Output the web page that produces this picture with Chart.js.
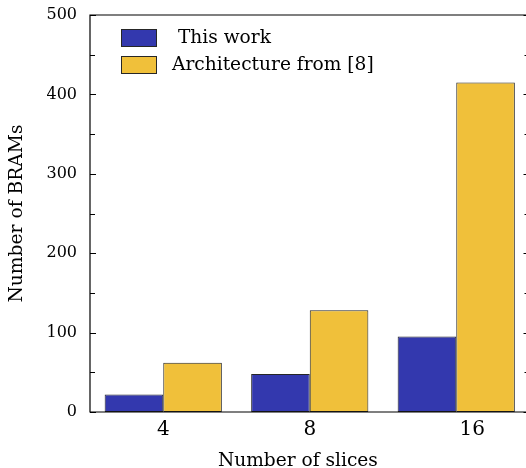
<!DOCTYPE html>
<html>
<head>
<meta charset="utf-8">
<script src="https://cdn.jsdelivr.net/npm/chart.js@4.4.1/dist/chart.umd.min.js"></script>
<style>
  html, body { margin: 0; padding: 0; background: #fff; overflow: hidden; }
  #wrap { width: 526px; height: 468px; }
</style>
</head>
<body>
<div id="wrap"><canvas id="c" width="526" height="468"></canvas></div>
<script>
const categories = ['4', '8', '16'];
const seriesNames = [' This work', 'Architecture from [8]'];
const thisWork = [22, 48, 95];
const architecture8 = [62, 128, 415];
const yTicks = [0, 100, 200, 300, 400, 500];
const yMinorTicks = [50, 150, 250, 350, 450];

const FONT = "'DejaVu Serif', 'Liberation Serif', serif";
const BLUE = '#3338AE';
const YELLOW = '#F0C03A';
const EDGE = '#262626';
const AREA_RIGHT = 529.5; // plot frame extends slightly past the canvas edge

const extendPlugin = {
  id: 'extend',
  afterLayout(chart) {
    const x = chart.scales.x;
    chart.chartArea.right = AREA_RIGHT;
    chart.chartArea.width = AREA_RIGHT - chart.chartArea.left;
    x.right = AREA_RIGHT;
    x.width = AREA_RIGHT - x.left;
    x.configure();
  }
};

const framePlugin = {
  id: 'frame',
  afterDatasetsDraw(chart) {
    const ctx = chart.ctx;
    const a = chart.chartArea;
    const y = chart.scales.y;
    ctx.save();
    ctx.strokeStyle = '#000';
    ctx.lineWidth = 1.2;
    ctx.beginPath();
    ctx.rect(a.left, a.top, a.right - a.left, a.bottom - a.top);
    ctx.stroke();
    ctx.lineWidth = 1;
    yTicks.forEach(v => {
      const py = Math.round(y.getPixelForValue(v)) + 0.5;
      ctx.beginPath();
      ctx.moveTo(a.left, py); ctx.lineTo(a.left + 6, py);
      ctx.moveTo(a.right, py); ctx.lineTo(a.right - 6, py);
      ctx.stroke();
    });
    yMinorTicks.forEach(v => {
      const py = Math.round(y.getPixelForValue(v)) + 0.5;
      ctx.beginPath();
      ctx.moveTo(a.left, py); ctx.lineTo(a.left + 5, py);
      ctx.moveTo(a.right, py); ctx.lineTo(a.right - 5, py);
      ctx.stroke();
    });
    // legend inside plot
    const ds = chart.data.datasets;
    ctx.font = "18.6px " + FONT;
    ctx.textBaseline = 'middle';
    ctx.textAlign = 'left';
    ds.forEach((d, i) => {
      const top = 29.5 + i * 27;
      ctx.fillStyle = d.backgroundColor;
      ctx.fillRect(121.5, top, 35, 17);
      ctx.strokeStyle = EDGE;
      ctx.lineWidth = 1;
      ctx.strokeRect(121.5, top, 35, 17);
      ctx.fillStyle = '#000';
      ctx.fillText(d.label, 172, top + 8.5);
    });
    ctx.restore();
  }
};

new Chart(document.getElementById('c'), {
  type: 'bar',
  data: {
    labels: categories,
    datasets: [
      { label: seriesNames[0], data: thisWork, backgroundColor: BLUE, borderColor: EDGE, borderWidth: 1, borderSkipped: false },
      { label: seriesNames[1], data: architecture8, backgroundColor: YELLOW, borderColor: EDGE, borderWidth: 1, borderSkipped: false }
    ]
  },
  options: {
    responsive: false,
    animation: false,
    devicePixelRatio: 1,
    layout: { padding: { left: 0, right: 0, top: 15, bottom: 0 } },
    datasets: { bar: { categoryPercentage: 0.8, barPercentage: 1.0 } },
    plugins: { legend: { display: false }, tooltip: { enabled: false } },
    scales: {
      x: {
        type: 'category',
        offset: true,
        grid: { display: false, drawTicks: false },
        border: { display: false },
        ticks: {
          color: '#000',
          font: { family: FONT, size: 20 },
          padding: 6,
          maxRotation: 0,
          callback: function(v, i) { return i === 2 ? '     ' + categories[i] : categories[i]; }
        },
        title: {
          display: true,
          text: 'Number of slices    ',
          color: '#000',
          font: { family: FONT, size: 18.6, lineHeight: 1 },
          padding: { top: 0, bottom: -2 }
        },
        afterFit(s) { s.height = 56; s.paddingLeft = 0; s.paddingRight = 0; }
      },
      y: {
        min: 0, max: 500,
        grid: { display: false, drawTicks: false },
        border: { display: false },
        ticks: {
          stepSize: 100,
          color: '#000',
          font: { family: FONT, size: 16 },
          padding: 13
        },
        afterBuildTicks(s) { s.ticks = yTicks.map(v => ({ value: v })); },
        title: {
          display: true,
          text: 'Number of BRAMs',
          color: '#000',
          font: { family: FONT, size: 18.7, lineHeight: 1.2 },
          padding: { top: 6, bottom: 0 }
        },
        afterFit(s) { s.width = 90; s.paddingTop = 0; s.paddingBottom = 0; }
      }
    }
  },
  plugins: [extendPlugin, framePlugin]
});
</script>
</body>
</html>
